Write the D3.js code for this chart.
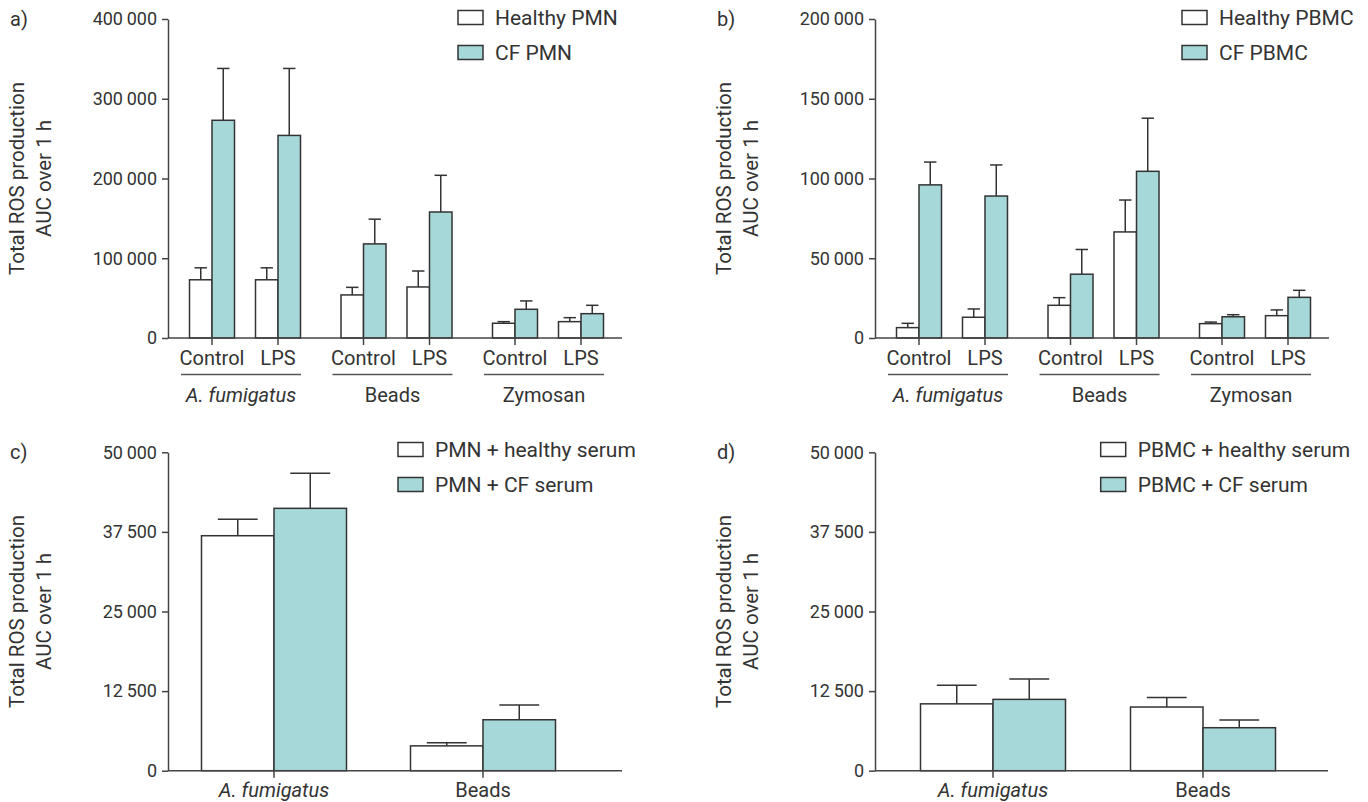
<!DOCTYPE html>
<html lang="en">
<head>
<meta charset="UTF-8">
<title>Total ROS production</title>
<script src="https://cdnjs.cloudflare.com/ajax/libs/d3/7.8.5/d3.min.js"></script>
<style>
    body { margin: 0; background: #fff; }
    svg { display: block; font-family: Roboto, "Noto Sans", sans-serif; }
    text { fill: #333; }
    .bar { stroke: #333; stroke-width: 1.5px; }
    .err { stroke: #333; stroke-width: 1.5px; fill: none; }
    .axis path, .axis line, .xline { stroke: #444; stroke-width: 1.5px; fill: none; }
    .axis text { font-size: 18px; fill: #333; }
    .cat { font-size: 20px; }
    .ytitle { font-size: 20.5px; }
    .legend text { font-size: 21px; }
    .plabel { font-size: 20px; }
</style>
</head>
<body>
<svg width="1368" height="802"></svg>
<script>
// categories
const groupsAB = ["A. fumigatus", "Beads", "Zymosan"];
const conditions = ["Control", "LPS"];
const groupsCD = ["A. fumigatus", "Beads"];

// a) PMN  (order: A.f Control, A.f LPS, Beads Control, Beads LPS, Zym Control, Zym LPS)
const healthyPMN    = [73000, 73000, 54000, 64000, 18500, 20500];
const healthyPMNErr = [15000, 15000, 9500, 20000, 2000, 5000];
const cfPMN         = [273000, 254000, 118000, 158000, 36000, 30500];
const cfPMNErr      = [65000, 84000, 31000, 46000, 10500, 10500];

// b) PBMC
const healthyPBMC    = [6500, 13000, 20500, 66500, 9000, 14000];
const healthyPBMCErr = [2700, 5200, 4800, 20000, 1000, 3600];
const cfPBMC         = [96000, 89000, 40000, 104500, 13300, 25500];
const cfPBMCErr      = [14300, 19500, 15500, 33300, 1300, 4400];

// c) PMN + serum
const pmnHealthySerum    = [36900, 3900];
const pmnHealthySerumErr = [2600, 500];
const pmnCFSerum         = [41200, 8000];
const pmnCFSerumErr      = [5500, 2300];

// d) PBMC + serum
const pbmcHealthySerum    = [10500, 10000];
const pbmcHealthySerumErr = [2900, 1500];
const pbmcCFSerum         = [11200, 6750];
const pbmcCFSerumErr      = [3200, 1200];

// tick values
const ticksA = [0, 100000, 200000, 300000, 400000];
const ticksB = [0, 50000, 100000, 150000, 200000];
const ticksCD = [0, 12500, 25000, 37500, 50000];

const svg = d3.select("svg");
const fmt = d3.formatLocale({decimal: ".", thousands: "\u2009", grouping: [3], currency: ["", ""]}).format(",d");
const cfColor = "#a6d8da";

function drawPanel(p) {
    const g = svg.append("g").attr("transform", `translate(${p.x},${p.y})`);
    const y = d3.scaleLinear().domain([0, p.ticks[p.ticks.length - 1]]).range([p.h, 0]);
    const xg = d3.scalePoint().domain(p.groups).range(p.groupRange);
    const xc = d3.scalePoint().domain(p.conds || ["-"]).range(p.conds ? [-33, 33] : [0, 0]);

    // one row per tick position
    const rows = [];
    p.groups.forEach((gr, gi) => {
        (p.conds || ["-"]).forEach((c, ci) => {
            const i = gi * (p.conds ? p.conds.length : 1) + ci;
            rows.push({
                group: gr, cond: c, cx: xg(gr) + xc(c),
                h: p.healthy[i], he: p.healthyErr[i],
                cf: p.cf[i], ce: p.cfErr[i]
            });
        });
    });

    const bw = p.bw;
    const capW = bw * 0.55;

    // error bars (upper only), drawn under bars
    const errs = [];
    rows.forEach(r => {
        errs.push({x: r.cx - bw / 2, v: r.h, e: r.he});
        errs.push({x: r.cx + bw / 2, v: r.cf, e: r.ce});
    });
    const eg = g.selectAll(".errg").data(errs).enter().append("g");
    eg.append("line").attr("class", "err")
        .attr("x1", d => d.x).attr("x2", d => d.x)
        .attr("y1", d => y(d.v)).attr("y2", d => y(d.v + d.e));
    eg.append("line").attr("class", "err")
        .attr("x1", d => d.x - capW / 2).attr("x2", d => d.x + capW / 2)
        .attr("y1", d => y(d.v + d.e)).attr("y2", d => y(d.v + d.e));

    g.selectAll(".hbar").data(rows).enter().append("rect")
        .attr("class", "bar")
        .attr("x", d => d.cx - bw)
        .attr("y", d => y(d.h))
        .attr("width", bw)
        .attr("height", d => y(0) - y(d.h))
        .attr("fill", "#fff");

    g.selectAll(".cbar").data(rows).enter().append("rect")
        .attr("class", "bar")
        .attr("x", d => d.cx)
        .attr("y", d => y(d.cf))
        .attr("width", bw)
        .attr("height", d => y(0) - y(d.cf))
        .attr("fill", cfColor);

    // y axis
    g.append("g").attr("class", "axis")
        .call(d3.axisLeft(y).tickValues(p.ticks).tickFormat(fmt).tickSize(6).tickPadding(5).tickSizeOuter(0))
        .call(a => a.selectAll("text").style("font-family", "Roboto, sans-serif"));

    // x axis line and ticks
    g.append("line").attr("class", "xline")
        .attr("x1", 0).attr("x2", p.w).attr("y1", p.h).attr("y2", p.h);
    g.selectAll(".xt").data(rows).enter().append("line").attr("class", "xline")
        .attr("x1", d => d.cx).attr("x2", d => d.cx)
        .attr("y1", p.h).attr("y2", p.h + 7);

    if (p.conds) {
        g.selectAll(".condlab").data(rows).enter().append("text")
            .attr("class", "cat")
            .attr("x", d => d.cx).attr("y", p.h + 27)
            .attr("text-anchor", "middle")
            .text(d => d.cond);
        g.selectAll(".gline").data(p.groups).enter().append("line")
            .attr("class", "xline")
            .attr("x1", d => xg(d) - 64).attr("x2", d => xg(d) + 56)
            .attr("y1", p.h + 36.5).attr("y2", p.h + 36.5)
            .style("stroke", "#555");
        g.selectAll(".glab").data(p.groups).enter().append("text")
            .attr("class", "cat")
            .attr("x", d => xg(d) - 4).attr("y", p.h + 64)
            .attr("text-anchor", "middle")
            .style("font-style", d => d === "A. fumigatus" ? "italic" : "normal")
            .text(d => d);
    } else {
        g.selectAll(".glab").data(p.groups).enter().append("text")
            .attr("class", "cat")
            .attr("x", d => xg(d)).attr("y", p.h + 26)
            .attr("text-anchor", "middle")
            .style("font-style", d => d === "A. fumigatus" ? "italic" : "normal")
            .text(d => d);
    }

    // y title
    const yc = p.h / 2;
    g.append("text").attr("class", "ytitle")
        .attr("transform", `translate(-144,${yc}) rotate(-90)`)
        .attr("text-anchor", "middle").text("Total ROS production");
    g.append("text").attr("class", "ytitle")
        .attr("transform", `translate(-117,${yc}) rotate(-90)`)
        .attr("text-anchor", "middle").text("AUC over 1 h");

    // panel letter
    svg.append("text").attr("class", "plabel")
        .attr("x", p.x - 158).attr("y", p.y + 7)
        .text(p.letter);

    // legend
    const lg = svg.append("g").attr("class", "legend")
        .attr("transform", `translate(${p.legend[0]},${p.legend[1]})`);
    const items = lg.selectAll("g").data(p.labels).enter().append("g")
        .attr("transform", (d, i) => `translate(0,${i * 35})`);
    items.append("rect")
        .attr("x", 0).attr("y", -14.5).attr("width", 25).attr("height", 14)
        .attr("fill", (d, i) => i === 0 ? "#fff" : cfColor)
        .attr("stroke", "#333").attr("stroke-width", 1.5);
    items.append("text").attr("x", 37).attr("y", 0).text(d => d);
}

drawPanel({
    letter: "a)", x: 168, y: 19, h: 319, w: 454, bw: 22.5,
    groups: groupsAB, conds: conditions, groupRange: [77, 380], ticks: ticksA,
    healthy: healthyPMN, healthyErr: healthyPMNErr, cf: cfPMN, cfErr: cfPMNErr,
    legend: [458, 25], labels: ["Healthy PMN", "CF PMN"]
});
drawPanel({
    letter: "b)", x: 875, y: 19, h: 319, w: 454, bw: 22.5,
    groups: groupsAB, conds: conditions, groupRange: [77, 380], ticks: ticksB,
    healthy: healthyPBMC, healthyErr: healthyPBMCErr, cf: cfPBMC, cfErr: cfPBMCErr,
    legend: [1182, 25], labels: ["Healthy PBMC", "CF PBMC"]
});
drawPanel({
    letter: "c)", x: 168, y: 452.3, h: 318.4, w: 454, bw: 72.5,
    groups: groupsCD, conds: null, groupRange: [106, 315], ticks: ticksCD,
    healthy: pmnHealthySerum, healthyErr: pmnHealthySerumErr, cf: pmnCFSerum, cfErr: pmnCFSerumErr,
    legend: [398, 457], labels: ["PMN + healthy serum", "PMN + CF serum"]
});
drawPanel({
    letter: "d)", x: 875, y: 452.3, h: 318.4, w: 453, bw: 72.5,
    groups: groupsCD, conds: null, groupRange: [118, 328], ticks: ticksCD,
    healthy: pbmcHealthySerum, healthyErr: pbmcHealthySerumErr, cf: pbmcCFSerum, cfErr: pbmcCFSerumErr,
    legend: [1100.7, 457], labels: ["PBMC + healthy serum", "PBMC + CF serum"]
});
</script>
</body>
</html>
